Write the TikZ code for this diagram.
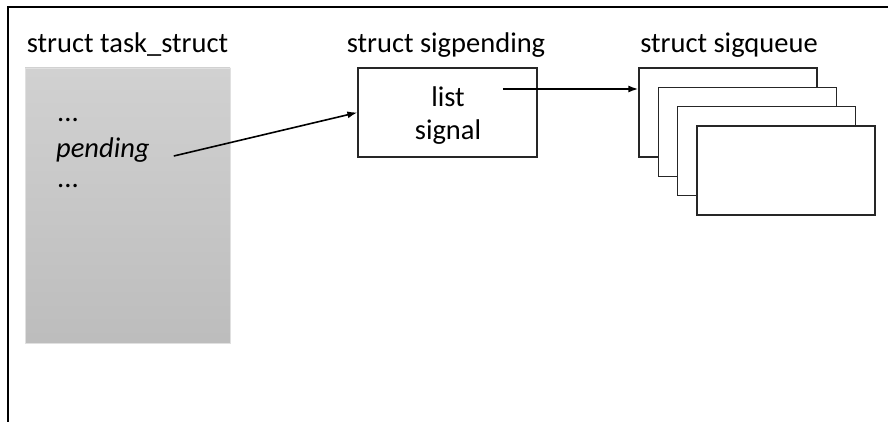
\documentclass[tikz,border=0pt]{standalone}
\usepackage{fontspec}
\setmainfont{Carlito}
\usetikzlibrary{positioning}
\usetikzlibrary{arrows.meta}

\tikzset{
  lbl/.style={font=\fontsize{28.5}{32}\selectfont, inner sep=0pt},
  wbox/.style={draw=black!85, line width=1.3pt, fill=white},
  arr/.style={line width=1.6pt, -{Latex[length=10pt,width=7pt]}},
}

\begin{document}
\begin{tikzpicture}[x=1pt,y=-1pt]
 \useasboundingbox (0,0) rectangle (888,422);
 % frame
 \draw[line width=2pt](8,422)--(8,7)--(888,7);
 % task_struct
 \node[lbl] (tasklbl) at (127.5,45) {struct task\_struct};
 \shade[top color=black!18, bottom color=black!26,draw=black!12] (25,68) rectangle (230,343);
 \node[lbl,anchor=west] (dots1) at (57,120) {...};
 \node[lbl,anchor=west] (pend) at (56,150) {\itshape pending};
 \node[lbl,anchor=west] (dots2) at (57,186) {...};
 % sigpending
 \node[lbl] (pendlbl) at (446,45) {struct sigpending};
 \node[wbox, minimum width=179pt, minimum height=89pt] (sigpend) at (447.5,112.5) {};
 \node[lbl] (list) at (448,97) {list};
 \node[lbl] (signal) at (448,132) {signal};
 % sigqueue
 \node[lbl] (queuelbl) at (729,45) {struct sigqueue};
 \foreach \i in {0,...,3}
   \node[wbox, minimum width=178pt, minimum height=89pt] (q\i) at (728+19.3*\i,112.5+19.3*\i) {};
 % pointers
 \draw[arr] ([xshift=24pt,yshift=-6pt]pend.east) -- (sigpend.west);
 \draw[arr] ([xshift=38pt,yshift=8pt]list.east) -- ([yshift=8pt]list.east -| q0.west);
\end{tikzpicture}
\end{document}
